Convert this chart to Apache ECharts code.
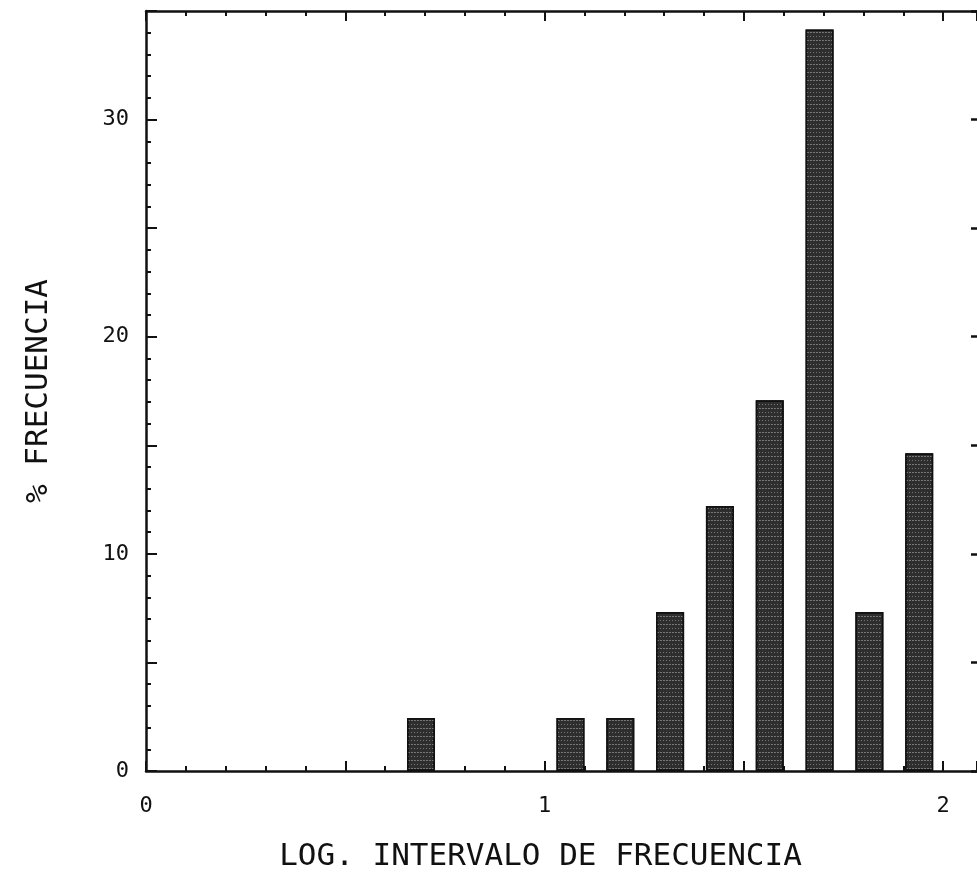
<!DOCTYPE html>
<html>
<head>
<meta charset="utf-8">
<script src="https://cdn.jsdelivr.net/npm/echarts@6/dist/echarts.min.js"></script>
<style>html,body{margin:0;padding:0;background:#fff}#c{width:977px;height:877px}</style>
</head>
<body>
<div id="c"></div>
<script>
const binCenters = [0.69, 1.065, 1.19, 1.315, 1.44, 1.565, 1.69, 1.815, 1.94];
const pctValues = [2.44, 2.44, 2.44, 7.32, 12.2, 17.07, 34.15, 7.32, 14.63];
const xTickLabels = ['0', '1', '2'];
const yTickLabels = ['0', '10', '20', '30'];
const xTitle = 'LOG. INTERVALO DE FRECUENCIA';
const yTitle = '% FRECUENCIA';

const FONT = 'DejaVu Sans Mono';
const INK = '#111';
const barData = binCenters.map((x, i) => [x, pctValues[i]]);

function xLab(v) {
  const r = Math.round(v);
  if (Math.abs(v - r) > 1e-6) return '';
  return xTickLabels.includes(String(r)) ? String(r) : '';
}
function yLab(v) {
  const r = Math.round(v);
  if (Math.abs(v - r) > 1e-6) return '';
  return yTickLabels.includes(String(r)) ? String(r) : '';
}

const baseX = {type: 'value', min: 0, max: 2.085, splitLine: {show: false}};
const baseY = {type: 'value', min: 0, max: 35, splitLine: {show: false}};
const line = {show: true, onZero: false, lineStyle: {color: INK, width: 2.5}};
const noLine = {show: false, onZero: false};

const option = {
  animation: false,
  backgroundColor: '#fff',
  grid: {left: 146, top: 11, right: 0, bottom: 105, containLabel: false},
  xAxis: [
    Object.assign({}, baseX, {
      position: 'bottom', interval: 0.1,
      axisLine: line,
      axisTick: {show: true, inside: true, length: 5, lineStyle: {color: INK, width: 2}},
      axisLabel: {formatter: xLab, margin: 24, fontFamily: FONT, fontSize: 22, color: INK, showMaxLabel: false, showMinLabel: true},
      name: xTitle, nameLocation: 'middle', nameGap: 70,
      nameTextStyle: {fontFamily: FONT, fontSize: 31, color: INK, padding: [0, 42, 0, 0]}
    }),
    Object.assign({}, baseX, {
      position: 'bottom', interval: 0.5,
      axisLine: noLine,
      axisTick: {show: true, inside: true, length: 10, lineStyle: {color: INK, width: 2}},
      axisLabel: {show: false}
    }),
    Object.assign({}, baseX, {
      position: 'top', interval: 0.1,
      axisLine: line,
      axisTick: {show: true, inside: true, length: 5, lineStyle: {color: INK, width: 2}},
      axisLabel: {show: false}
    }),
    Object.assign({}, baseX, {
      position: 'top', interval: 0.5,
      axisLine: noLine,
      axisTick: {show: true, inside: true, length: 10, lineStyle: {color: INK, width: 2}},
      axisLabel: {show: false}
    })
  ],
  yAxis: [
    Object.assign({}, baseY, {
      position: 'left', interval: 1,
      axisLine: line,
      axisTick: {show: true, inside: true, length: 5, lineStyle: {color: INK, width: 2}},
      axisLabel: {formatter: yLab, margin: 17, fontFamily: FONT, fontSize: 22, color: INK},
      name: yTitle, nameLocation: 'middle', nameGap: 92, nameRotate: 90,
      nameTextStyle: {fontFamily: FONT, fontSize: 31, color: INK}
    }),
    Object.assign({}, baseY, {
      position: 'left', interval: 5,
      axisLine: noLine,
      axisTick: {show: true, inside: true, length: 11, lineStyle: {color: INK, width: 2}},
      axisLabel: {show: false}
    }),
    Object.assign({}, baseY, {
      position: 'right', interval: 5,
      axisLine: noLine,
      axisTick: {show: true, inside: true, length: 6, lineStyle: {color: INK, width: 2.5}},
      axisLabel: {show: false}
    })
  ],
  series: [{
    type: 'bar',
    xAxisIndex: 0, yAxisIndex: 0,
    barWidth: 28,
    data: barData,
    itemStyle: {
      color: '#2e2e2e', borderColor: '#111', borderWidth: 1.5,
      decal: {symbol: 'rect', symbolSize: 1, dashArrayX: [[1, 2], [2, 1]], dashArrayY: [1, 3], color: 'rgba(255,255,255,0.35)', rotation: 0}
    },
    emphasis: {disabled: true}
  }]
};

const chart = echarts.init(document.getElementById('c'), null, {renderer: 'canvas'});
chart.setOption(option);
</script>
</body>
</html>
